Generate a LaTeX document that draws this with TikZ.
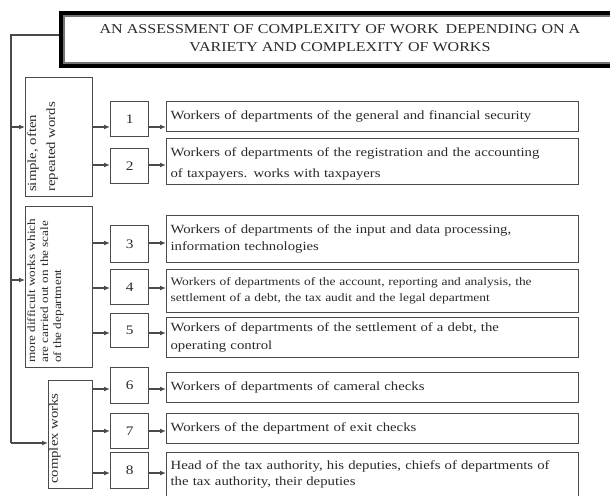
\documentclass[tikz,border=0pt]{standalone}
\usepackage{fontspec}
\setmainfont{Liberation Serif}[FakeStretch=1.18]
\usetikzlibrary{arrows.meta}
\definecolor{ln}{HTML}{4A4A4A}
\definecolor{tx}{HTML}{2A2A2A}
\begin{document}
\begin{tikzpicture}[x=1pt,y=-1pt,
  box/.style={draw=ln, line width=1.2pt, fill=white, inner sep=0pt, anchor=north west, text=tx},
  numbox/.style={box, minimum width=38pt, font=\fontsize{13}{15}\selectfont},
  descbox/.style={box, minimum width=412pt, text width=404pt, inner xsep=4pt, align=left},
  cattext/.style={rotate=90, anchor=north west, inner sep=0pt, align=left, text=tx},
  arr/.style={draw=ln, line width=1.2pt, -{Latex[length=6pt,width=5pt]}},
  conn/.style={draw=ln, line width=1.2pt}
]
\useasboundingbox (0,0) rectangle (610,495);
\clip (0,0) rectangle (610,495);
\fill[white] (0,0) rectangle (610,495);

% title
\node[draw=black, line width=4pt, fill=white, inner sep=0pt, anchor=north west,
      minimum width=600pt, minimum height=53pt] (title) at (59,11) {};
\draw[draw=black!55, line width=1.4pt] ([shift={(5,5)}]title.north west) rectangle ([shift={(-5,-5)}]title.south east);
\node[text=tx, align=center, font=\fontsize{13.6}{18}\selectfont] (ttext) at (340,38)
  {AN ASSESSMENT OF COMPLEXITY OF WORK\enspace DEPENDING ON A\\VARIETY AND COMPLEXITY OF WORKS};

% category boxes
\node[box, minimum width=67pt, minimum height=119pt] (A) at (25,77) {};
\node[box, minimum width=67pt, minimum height=161pt] (B) at (25,206) {};
\node[box, minimum width=44pt, minimum height=108pt] (C) at (48,380) {};
\node[cattext, font=\fontsize{12.5}{19}\selectfont] (At) at (27,192) {simple, often\\repeated words};
\node[cattext, font=\fontsize{11.2}{13}\selectfont] (Bt) at (27,363) {more difficult works which\\are carried out on the scale\\of the department};
\node[cattext, font=\fontsize{12.5}{15}\selectfont] (Ct) at (49,484) {complex works};

% number boxes
\node[numbox, minimum height=35pt] (n1) at (110,101) {1};
\node[numbox, minimum height=35pt] (n2) at (110,148) {2};
\node[numbox, minimum height=37pt] (n3) at (110,225) {3};
\node[numbox, minimum height=35pt] (n4) at (110,269) {4};
\node[numbox, minimum height=34pt] (n5) at (110,313) {5};
\node[numbox, minimum height=36pt] (n6) at (110,367) {6};
\node[numbox, minimum height=35pt] (n7) at (110,413) {7};
\node[numbox, minimum height=36pt] (n8) at (110,452) {8};

% description boxes
\node[descbox, minimum height=30pt, font=\fontsize{12.5}{21}\selectfont] (d1) at (166,101)
  {Workers of departments of the general and financial security};
\node[descbox, minimum height=46pt, font=\fontsize{12.5}{21}\selectfont] (d2) at (166,138)
  {\rule{0pt}{13pt}Workers of departments of the registration and the accounting\\of taxpayers. works with taxpayers};
\node[descbox, minimum height=47pt, font=\fontsize{12.5}{17.5}\selectfont] (d3) at (166,215)
  {Workers of departments of the input and data processing,\\information technologies};
\node[descbox, minimum height=43pt, font=\fontsize{11.4}{16}\selectfont] (d4) at (166,269)
  {Workers of departments of the account, reporting and analysis, the\\settlement of a debt, the tax audit and the legal department};
\node[descbox, minimum height=40pt, font=\fontsize{12.5}{18}\selectfont] (d5) at (166,317)
  {Workers of departments of the settlement of a debt, the\\operating control};
\node[descbox, minimum height=30pt, font=\fontsize{12.5}{15}\selectfont] (d6) at (166,372)
  {Workers of departments of cameral checks};
\node[descbox, minimum height=30pt, font=\fontsize{12.5}{15}\selectfont] (d7) at (166,413)
  {Workers of the department of exit checks};
\node[descbox, minimum height=44pt, font=\fontsize{12.5}{16}\selectfont] (d8) at (166,452)
  {Head of the tax authority, his deputies, chiefs of departments of\\the tax authority, their deputies};

% trunk
\coordinate (t0) at (11,35);
\coordinate (ta) at (11,127);
\coordinate (tb) at (11,280);
\coordinate (tc) at (11,443);
\draw[conn] (title.west |- t0) -- (t0) -- (tc);
\draw[arr] (ta) -- (A.west |- ta);
\draw[arr] (tb) -- (B.west |- tb);
\draw[arr] (tc) -- (C.west |- tc);

% arrows category -> number -> description
\foreach \n/\c/\y in {1/A/127, 2/A/165, 3/B/243, 4/B/288, 5/B/333, 6/C/389, 7/C/431, 8/C/473}{
  \draw[arr] (\c.east |- 0,\y) -- (n\n.west |- 0,\y);
  \draw[arr] (n\n.east |- 0,\y) -- (d\n.west |- 0,\y);
}
\end{tikzpicture}
\end{document}
